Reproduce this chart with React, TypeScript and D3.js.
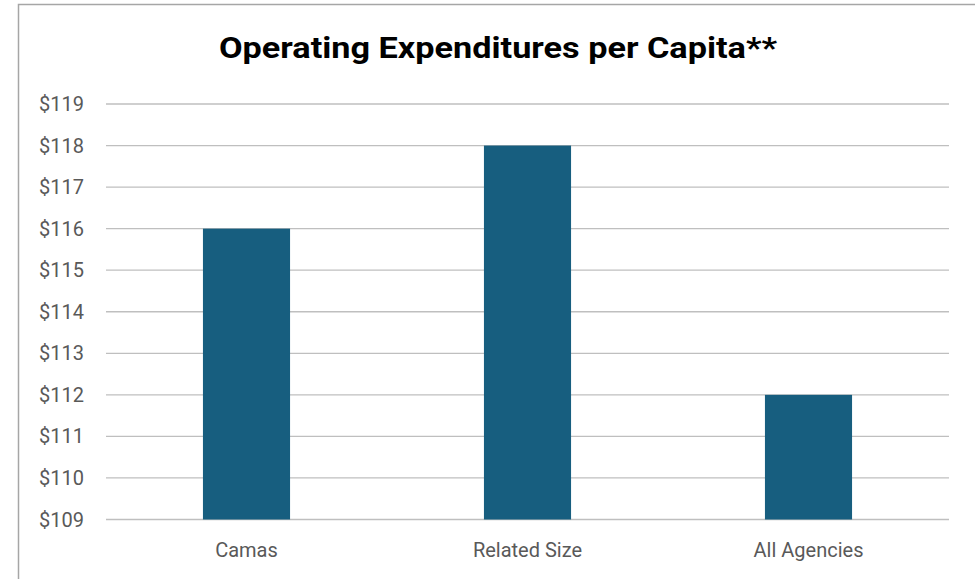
import { useEffect, useRef } from 'react';
import * as d3 from 'd3';

const categories = ['Camas', 'Related Size', 'All Agencies'];
const values = [116, 118, 112];
const yTicks = [109, 110, 111, 112, 113, 114, 115, 116, 117, 118, 119];
const title = 'Operating Expenditures per Capita**';

const App = () => {
  const svgRef = useRef<SVGSVGElement>(null);

  useEffect(() => {
    document.body.style.margin = '0';
    if (!svgRef.current) return;
    const svg = d3.select(svgRef.current);
    svg.selectAll('*').remove();

    const width = 975;
    const height = 579;

    svg.attr('width', width).attr('height', height);

    // outer chart border
    svg.append('rect')
      .attr('x', 18.5)
      .attr('y', 4.5)
      .attr('width', 1000)
      .attr('height', 1000)
      .attr('fill', 'white')
      .attr('stroke', '#a6a6a6')
      .attr('stroke-width', 1.5);

    const x = d3.scaleBand()
      .domain(categories)
      .range([106, 949])
      .padding(0);

    const y = d3.scaleLinear()
      .domain([109, 119])
      .range([519.5, 104]);

    // gridlines
    svg.append('g')
      .selectAll('line')
      .data(yTicks)
      .enter()
      .append('line')
      .attr('x1', 106)
      .attr('x2', 949)
      .attr('y1', d => y(d))
      .attr('y2', d => y(d))
      .attr('stroke', '#bfbfbf')
      .attr('stroke-width', 1.3);

    // y labels
    svg.append('g')
      .selectAll('text')
      .data(yTicks)
      .enter()
      .append('text')
      .attr('x', 84)
      .attr('y', d => y(d))
      .attr('dy', '0.35em')
      .attr('text-anchor', 'end')
      .attr('font-family', 'Roboto, "Open Sans", sans-serif')
      .attr('font-size', 20)
      .attr('fill', '#595959')
      .text(d => `$${d}`);

    // bars
    const barW = x.bandwidth() * 0.31;
    svg.append('g')
      .selectAll('rect')
      .data(values)
      .enter()
      .append('rect')
      .attr('x', (d, i) => (x(categories[i]) || 0) + x.bandwidth() / 2 - barW / 2)
      .attr('y', d => y(d))
      .attr('width', barW)
      .attr('height', d => y(109) - y(d))
      .attr('fill', '#175e7f');

    // x labels
    svg.append('g')
      .selectAll('text')
      .data(categories)
      .enter()
      .append('text')
      .attr('x', d => (x(d) || 0) + x.bandwidth() / 2)
      .attr('y', 557)
      .attr('text-anchor', 'middle')
      .attr('font-family', 'Roboto, "Open Sans", sans-serif')
      .attr('font-size', 20)
      .attr('fill', '#595959')
      .text(d => d);

    // title
    svg.append('text')
      .attr('x', 498)
      .attr('y', 58)
      .attr('text-anchor', 'middle')
      .attr('font-family', 'Roboto, sans-serif')
      .attr('font-weight', 'bold')
      .attr('font-size', 29)
      .attr('fill', '#000')
      .attr('textLength', 558)
      .attr('lengthAdjust', 'spacingAndGlyphs')
      .text(title);
  }, []);

  return <svg ref={svgRef} style={{ display: 'block' }} />;
};

export default App;
